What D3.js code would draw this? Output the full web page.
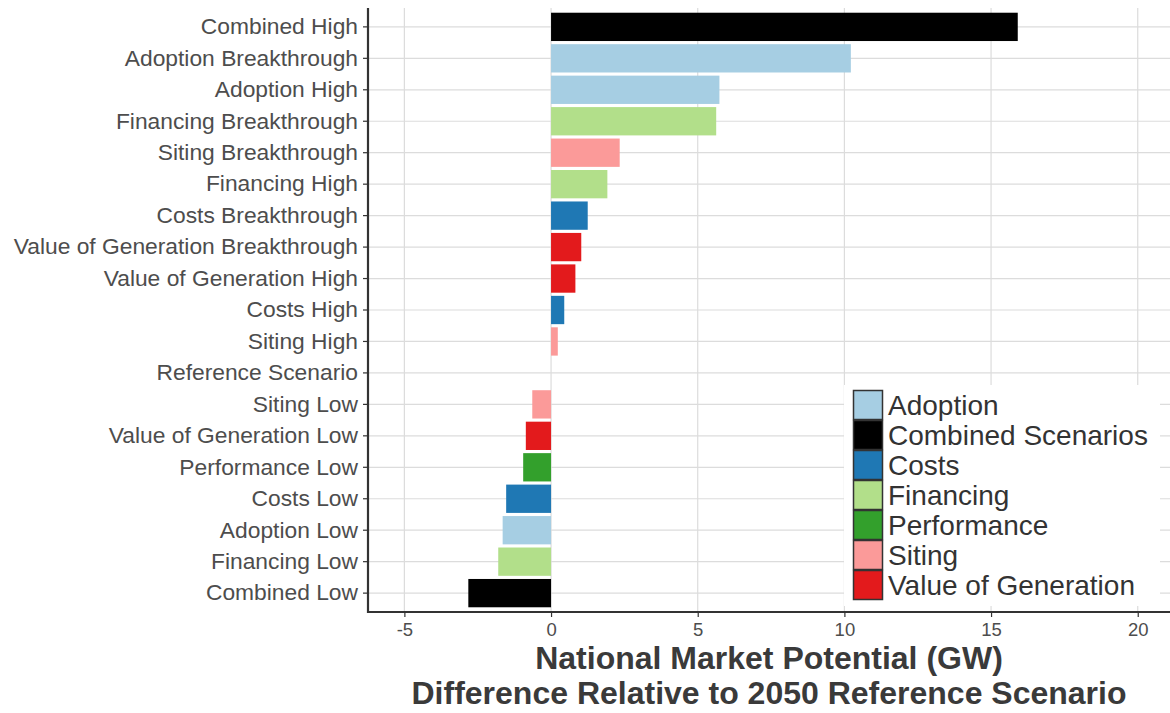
<!DOCTYPE html>
<html>
<head>
<meta charset="utf-8">
<script src="https://cdn.jsdelivr.net/npm/d3@7"></script>
<style>
  html, body { margin: 0; padding: 0; background: #fff; }
  svg { display: block; }
  text { font-family: Arial, "Liberation Sans", sans-serif; }
</style>
</head>
<body>
<svg id="chart" width="1170" height="713"></svg>
<script>
const scenarios = [
  "Combined High", "Adoption Breakthrough", "Adoption High", "Financing Breakthrough",
  "Siting Breakthrough", "Financing High", "Costs Breakthrough",
  "Value of Generation Breakthrough", "Value of Generation High", "Costs High",
  "Siting High", "Reference Scenario", "Siting Low", "Value of Generation Low",
  "Performance Low", "Costs Low", "Adoption Low", "Financing Low", "Combined Low"
];
const values = [
  15.91, 10.22, 5.74, 5.63, 2.34, 1.92, 1.25, 1.03, 0.83, 0.45, 0.23, 0,
  -0.64, -0.86, -0.95, -1.53, -1.65, -1.80, -2.82
];
const groups = [
  "Combined Scenarios", "Adoption", "Adoption", "Financing", "Siting", "Financing",
  "Costs", "Value of Generation", "Value of Generation", "Costs", "Siting",
  "Reference", "Siting", "Value of Generation", "Performance", "Costs",
  "Adoption", "Financing", "Combined Scenarios"
];
const legendGroups = ["Adoption", "Combined Scenarios", "Costs", "Financing", "Performance", "Siting", "Value of Generation"];
const groupColors = ["#a6cee3", "#000000", "#1f78b4", "#b2df8a", "#33a02c", "#fb9a99", "#e31a1c"];
const xTicks = [-5, 0, 5, 10, 15, 20];
const xDomain = [-6.24, 21.1];
const titleLines = ["National Market Potential (GW)", "Difference Relative to 2050 Reference Scenario"];

const svg = d3.select("#chart");
const pLeft = 368, pRight = 1170, pTop = 8, pBottom = 612;

const x = d3.scaleLinear().domain(xDomain).range([pLeft, pRight]);
const y = d3.scaleBand().domain(scenarios).range([pTop, pBottom]).paddingInner(0.1).paddingOuter(0.15);
const color = d3.scaleOrdinal().domain(legendGroups).range(groupColors);

const data = scenarios.map((s, i) => ({ name: s, value: values[i], group: groups[i] }));

// grid
const grid = svg.append("g");
grid.selectAll("line.v").data(xTicks).join("line")
  .attr("x1", d => x(d)).attr("x2", d => x(d))
  .attr("y1", pTop).attr("y2", pBottom)
  .attr("stroke", "#dcdcdc").attr("stroke-width", 1.2);
grid.selectAll("line.h").data(scenarios).join("line")
  .attr("x1", pLeft).attr("x2", pRight)
  .attr("y1", d => y(d) + y.bandwidth() / 2).attr("y2", d => y(d) + y.bandwidth() / 2)
  .attr("stroke", "#dcdcdc").attr("stroke-width", 1.2);

// bars
svg.append("g").selectAll("rect").data(data.filter(d => d.value !== 0)).join("rect")
  .attr("x", d => x(Math.min(0, d.value)))
  .attr("width", d => Math.abs(x(d.value) - x(0)))
  .attr("y", d => y(d.name))
  .attr("height", y.bandwidth())
  .attr("fill", d => color(d.group));

// axes
const xAxis = svg.append("g").attr("transform", `translate(0,${pBottom})`)
  .call(d3.axisBottom(x).tickValues(xTicks).tickSize(5).tickPadding(6).tickFormat(d => String(d)));
xAxis.select(".domain").attr("stroke", "#333").attr("stroke-width", 2.2).attr("d", `M${pLeft},0H${pRight}`);
xAxis.selectAll(".tick line").attr("stroke", "#333").attr("stroke-width", 1.2);
xAxis.selectAll(".tick text").attr("font-size", 18.5).attr("fill", "#4d4d4d")
  .attr("font-family", "Arial, 'Liberation Sans', sans-serif");

const yAxis = svg.append("g").attr("transform", `translate(${pLeft},0)`)
  .call(d3.axisLeft(y).tickSize(5).tickPadding(5));
yAxis.select(".domain").attr("stroke", "#333").attr("stroke-width", 2.2).attr("d", `M0,${pTop}V${pBottom + 1}`);
yAxis.selectAll(".tick line").attr("stroke", "#333").attr("stroke-width", 1.2);
yAxis.selectAll(".tick text").attr("font-size", 22.8).attr("fill", "#4d4d4d")
  .attr("font-family", "Arial, 'Liberation Sans', sans-serif");

// legend
const lg = svg.append("g");
lg.append("rect").attr("x", 844).attr("y", 385).attr("width", 316).attr("height", 221).attr("fill", "#fff");
legendGroups.forEach((g, i) => {
  const yy = 390 + i * 30;
  lg.append("rect").attr("x", 853.5).attr("y", yy + 0.5).attr("width", 29).attr("height", 29)
    .attr("fill", color(g)).attr("stroke", "#333").attr("stroke-width", 1.5);
  lg.append("text").attr("x", 888).attr("y", yy + 25).attr("font-size", 28).attr("fill", "#333").text(g);
});

// title
titleLines.forEach((t, i) => {
  svg.append("text").attr("x", (pLeft + pRight) / 2).attr("y", 669 + i * 35)
    .attr("text-anchor", "middle").attr("font-size", 32).attr("font-weight", "bold")
    .attr("fill", "#3a3a3a").text(t);
});
</script>
</body>
</html>
